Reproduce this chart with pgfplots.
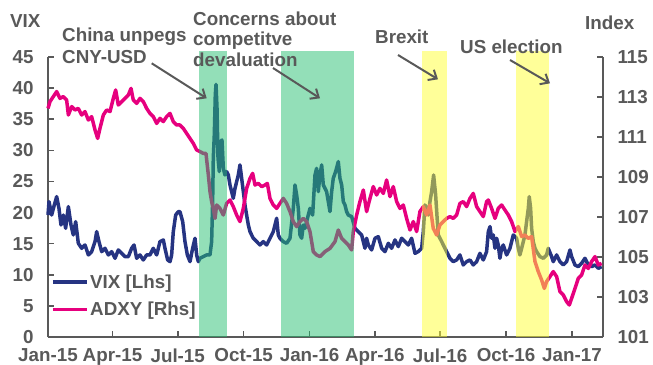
\documentclass[border=0pt]{standalone}
\usepackage{fontspec}
\setmainfont{Liberation Sans}
\usepackage{pgfplots}
\usepackage{pgfplotstable}
\pgfplotsset{compat=1.18}
\usetikzlibrary{arrows.meta}
\definecolor{navy}{RGB}{38,52,130}
\definecolor{mag}{RGB}{230,0,126}
\definecolor{txt}{RGB}{89,89,89}
\definecolor{bgreen}{RGB}{39,191,113}
\definecolor{byellow}{RGB}{255,255,51}
\newcommand\myfont{\fontsize{18.8bp}{21bp}\selectfont\bfseries}

\pgfplotstableread{
day vix
0 19.6
1.4 21.76
5.1 19.6
8.8 21.22
12.1 22.56
15.3 20.68
18.1 18.0
21.4 19.6
24.6 17.47
28.4 20.95
32.1 18.0
35.3 16.4
38.6 18.54
42.3 15.06
47 14.26
51.6 14.79
56.3 13.19
60.9 13.72
65.6 15.33
67.9 16.94
71.1 15.33
74.9 13.72
79.5 14.26
84.2 13.19
88.8 13.72
93.5 12.65
98.1 13.99
102.8 13.45
107.4 12.92
112.1 12.92
116.7 14.26
120 14.79
123.7 12.65
128.3 13.19
133 12.38
137.6 13.19
142.3 13.19
146.9 14.26
151.6 13.19
156.2 15.33
160.9 15.6
163.2 14.26
166.9 12.38
170.2 12.11
172.5 13.19
174.8 16.94
178.1 19.6
181.8 20.15
184.1 20.15
187.9 18.54
191.1 15.33
194.4 13.19
198.1 12.11
201.8 14.26
205.1 15.87
207.4 13.19
209.7 12.11
212 12.65
216.7 12.92
221.3 13.19
226 13.19
228.3 15.33
229.7 21.76
230.6 28.72
232 32.47
233.4 38.9
234.4 40.6
235.8 36.75
237.2 28.72
239 26.58
240.9 31.4
242.7 31.67
244.6 27.11
246.9 26.04
249.2 26.58
251.6 26.04
253.9 24.43
256.2 23.36
258.5 22.29
260.9 23.9
263.2 24.97
265.5 26.04
267.8 27.65
270.2 25.51
272.5 23.36
274.8 21.22
277.1 19.6
279.5 18.0
281.8 16.94
284.1 16.4
286.4 15.87
291.1 15.33
295.7 14.79
300.4 15.33
305 14.79
309.7 15.87
314.3 16.94
319 19.08
321.3 16.4
323.6 15.87
328.3 15.33
332.9 15.06
337.6 15.87
342.2 20.68
344.6 24.43
346.9 22.83
349.2 20.68
351.5 16.4
353.9 15.87
356.2 18.0
358.5 17.47
360.8 18.54
365.5 20.68
369.2 19.6
372.5 26.04
374.8 27.11
377.1 23.36
379.4 26.04
381.8 27.65
384.1 24.43
388.7 23.36
393.4 20.15
395.7 23.36
398 25.51
401.3 26.58
405 28.19
407.3 25.51
409.7 24.43
412 21.76
414.3 21.22
416.6 20.15
419 19.6
423.6 19.35
428.3 17.47
432.9 16.94
437.6 16.4
442.2 14.26
444.5 15.87
446.9 14.79
451.5 13.99
456.2 15.87
460.8 16.13
465.5 14.26
470.1 13.72
474.8 15.06
479.4 14.26
484.1 15.6
488.7 14.53
493.4 15.87
498 15.33
502.7 14.79
507.3 15.87
512 13.45
516.6 13.72
521.3 14.26
523.6 16.94
525.9 21.22
528.2 20.68
530.6 19.6
532.9 21.76
535.2 23.36
538 26.04
540.8 22.83
542.6 19.6
544.5 16.4
546.8 15.87
549.2 15.33
551.5 14.79
556.1 13.72
560.8 12.65
565.4 12.11
570.1 12.38
574.7 13.19
579.4 11.58
584 12.11
588.7 12.38
593.3 11.58
598 12.11
602.6 13.45
607.3 12.38
611.9 13.72
614.3 16.94
616.6 17.74
618.9 15.87
621.2 16.4
623.6 14.26
625.9 15.87
628.2 14.79
630.5 12.65
632.9 14.26
635.2 14.79
639.8 13.19
644.5 14.26
649.1 16.4
653.8 15.87
656.1 14.26
658.4 13.19
660.8 14.26
663.1 15.33
665.4 16.4
667.7 18.54
670.1 20.68
671.4 22.56
673.3 20.68
674.7 17.47
677 15.33
679.4 14.26
681.7 13.72
686.3 12.92
691 12.65
695.6 13.19
697.9 14.26
702.6 12.92
704.9 12.11
709.6 13.19
714.2 12.11
718.9 11.58
723.5 12.11
728.2 13.99
730.5 12.92
735.2 11.58
739.8 11.31
744.5 11.85
749.1 12.65
753.8 11.58
758.4 11.31
763.1 11.58
767.7 11.04
772.4 11.31
}\vixtable

\pgfplotstableread{
day adxy
0 112.43
2.8 112.77
7.4 113.02
12.1 113.27
16.7 112.93
21.4 113.02
26 112.85
28.4 112.1
33 112.52
37.7 112.35
42.3 112.43
47 112.1
51.6 112.27
56.3 111.85
60.9 112.02
65.6 111.35
69.3 110.93
72.5 111.43
77.2 112.1
81.8 112.35
86.5 112.27
91.1 112.93
94.4 113.35
98.1 112.6
102.8 112.77
107.4 112.93
112.1 113.1
115.8 113.43
119 112.85
123.7 112.68
128.3 112.93
133 112.77
137.6 112.43
142.3 112.18
146.9 112.02
151.6 111.68
156.2 111.93
160.9 111.77
165.5 112.02
170.2 112.18
174.8 111.77
179.5 111.6
184.1 111.6
188.8 111.43
193.4 111.18
198.1 110.93
202.7 110.68
207.4 110.35
212 110.27
216.7 110.18
220.4 110.18
223.7 109.1
226 108.27
228.3 107.77
230.6 107.43
233 106.93
235.3 107.6
239.9 107.43
244.6 107.1
249.2 107.68
253.9 107.85
258.5 107.52
263.2 107.1
267.8 106.77
272.5 107.43
277.1 108.43
281.8 108.93
285.5 109.18
288.8 108.6
293.4 108.68
298.1 108.52
302.7 108.6
306 108.68
309.7 107.93
314.3 107.6
319 107.43
323.6 107.68
328.3 107.93
332.9 107.68
337.6 107.27
342.2 106.77
346.9 106.52
351.5 106.77
356.2 106.93
360.8 106.77
365.5 106.27
370.1 105.27
374.8 105.1
379.4 105.02
386.4 105.27
393.4 105.43
400.4 105.77
405 106.35
409.7 105.93
414.3 105.77
419 105.6
423.6 105.35
425.9 106.27
430.6 107.1
435.2 107.77
439.9 108.35
444.5 107.27
449.2 107.93
453.8 108.52
458.5 108.1
463.1 108.43
467.8 108.18
472.4 108.85
477.1 108.02
481.7 108.52
486.4 107.77
491 107.43
495.7 107.6
500.3 106.93
505 106.35
509.6 106.77
514.3 106.27
518.9 107.27
523.6 107.52
528.2 107.1
532.9 107.6
537.5 106.43
542.2 106.1
546.8 106.6
551.5 106.77
556.1 106.93
560.8 107.02
565.4 106.93
570.1 107.1
574.7 107.68
579.4 107.77
584 107.52
588.7 107.93
593.3 108.18
598 107.52
602.6 107.27
607.3 107.02
611.9 107.77
614.3 107.85
618.9 107.43
623.6 106.93
628.2 107.43
632.9 107.6
637.5 107.35
642.2 107.1
646.8 106.77
651.5 106.27
656.1 106.52
660.8 106.02
665.4 106.1
670.1 105.93
674.7 106.02
679.4 104.77
684 104.27
688.7 103.85
692.4 103.43
695.6 103.77
700.3 104.02
704.9 104.27
709.6 104.02
714.2 103.27
718.9 103.1
723.5 102.77
727.3 102.6
730.5 102.93
735.2 103.43
739.8 103.93
744.5 104.1
749.1 104.6
753.8 104.43
758.4 104.77
763.1 105.02
767.7 104.6
772.4 104.68
}\adxytable

\begin{document}
\begin{tikzpicture}[font=\myfont, text=txt]
\path[use as bounding box] (-48bp,-28bp) rectangle (605bp,337bp);
\pgfplotsset{
  common/.style={
    scale only axis, width=555bp, height=280bp,
    at={(0,0)}, anchor=south west,
    xmin=0, xmax=774.3,
    axis line style={txt, line width=2bp},
    tick style={txt, line width=1.6bp},
    major tick length=6bp,
    tick align=inside,
    tick label style={font=\myfont, text=txt},
    /pgf/number format/assume math mode=true,
    clip=false,
  }
}
\begin{axis}[common,
  ymin=0, ymax=45,
  axis x line*=bottom, axis y line*=left,
  ytick={0,5,...,45},
  xtick={0,90,181,273,365,456,547,639,731},
  xticklabels={Jan-15,Apr-15,Jul-15,Oct-15,Jan-16,Apr-16,Jul-16,Oct-16,Jan-17},
  yticklabel style={xshift=-11bp},
  xticklabel style={yshift=-8bp},
  legend style={draw=none, fill=none, inner sep=0pt,
    at={(axis description cs:0.0054,0.066)}, anchor=south west,
    font=\myfont, text=txt, row sep=9bp,
    nodes={inner sep=1.5bp}},
  legend cell align=left,
  legend image code/.code={\draw[#1] (0bp,0bp) -- (34bp,0bp);},
]
\addplot[navy, line width=3.5bp, line join=round] table[x=day, y=vix] {\vixtable};
\addlegendentry{VIX [Lhs]}
\addlegendimage{mag, line width=3.5bp}
\addlegendentry{ADXY [Rhs]}
\end{axis}
\begin{axis}[common,
  ymin=101, ymax=115,
  axis x line=none, axis y line*=right,
  ytick={101,103,...,115},
  yticklabel style={xshift=11bp},
]
\addplot[mag, line width=3.5bp, line join=round] table[x=day, y=adxy] {\adxytable};
\addplot[draw=none, fill=bgreen, fill opacity=0.5] coordinates {(210.6,101) (210.6,115.3) (249.7,115.3) (249.7,101)} -- cycle;
\addplot[draw=none, fill=bgreen, fill opacity=0.5] coordinates {(325,101) (325,115.3) (426.9,115.3) (426.9,101)} -- cycle;
\addplot[draw=none, fill=byellow, fill opacity=0.5] coordinates {(521.7,101) (521.7,115.3) (556.6,115.3) (556.6,101)} -- cycle;
\addplot[draw=none, fill=byellow, fill opacity=0.5] coordinates {(652.9,101) (652.9,115.3) (699.6,115.3) (699.6,101)} -- cycle;
\end{axis}
\begin{scope}[every node/.style={inner sep=0pt, anchor=base west, font=\myfont, text=txt}]
\node at (-38bp,309.7bp) {VIX};
\node at (537bp,307.7bp) {Index};
\node at (14bp,295.3bp) {China unpegs};
\node at (14bp,273.7bp) {CNY-USD};
\node at (145bp,311bp) {Concerns about};
\node at (145bp,291bp) {competitve};
\node at (145bp,270.3bp) {devaluation};
\node at (327bp,293bp) {Brexit};
\node at (412bp,283.7bp) {US election};
\end{scope}
\begin{scope}[txt, line width=2bp, -{Straight Barb[length=7bp,width=12bp,line width=2bp]}]
\draw (103.7bp,273.7bp) -- (158.7bp,238.7bp);
\draw (225bp,269bp) -- (272bp,238.7bp);
\draw (350bp,282bp) -- (390bp,257.7bp);
\draw (462bp,277bp) -- (502bp,253.7bp);
\end{scope}
\end{tikzpicture}
\end{document}
